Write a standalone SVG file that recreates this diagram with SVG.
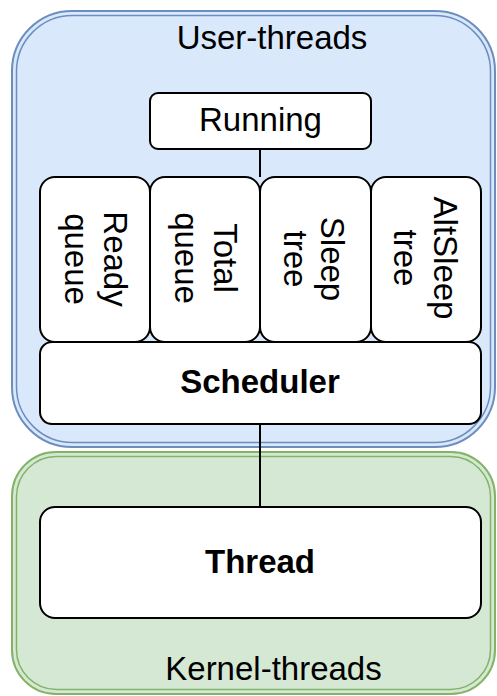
<svg xmlns="http://www.w3.org/2000/svg" width="497" height="696" viewBox="0 0 497 696">
  <style>
    .box { fill: #ffffff; stroke: #000000; stroke-width: 2; }
    .lbl { font-family: "Liberation Sans", Arial, Helvetica, sans-serif; font-size: 33px; fill: #000000; text-anchor: middle; }
    .bold { font-weight: bold; }
    .edge { fill: none; stroke: #000000; stroke-width: 2; }
    .blue-out { fill: #dae8fc; stroke: #6c8ebf; stroke-width: 2; }
    .blue-in { fill: none; stroke: #6c8ebf; stroke-width: 1.5; }
    .green-out { fill: #d5e8d4; stroke: #82b366; stroke-width: 2; }
    .green-in { fill: none; stroke: #82b366; stroke-width: 1.5; }
  </style>

  <!-- containers -->
  <g id="user-threads">
    <rect class="blue-out" x="12" y="11" width="483" height="436" rx="60" ry="60"/>
    <rect class="blue-in" x="16.5" y="15.5" width="474" height="427" rx="56" ry="56"/>
    <text class="lbl" x="272" y="49">User-threads</text>
  </g>
  <g id="kernel-threads">
    <rect class="green-out" x="12" y="452" width="483" height="242" rx="44" ry="44"/>
    <rect class="green-in" x="16.5" y="456.5" width="474" height="233" rx="40" ry="40"/>
    <text class="lbl" x="273.5" y="680">Kernel-threads</text>
  </g>

  <!-- connectors -->
  <g id="connectors">
    <line class="edge" x1="260" y1="149" x2="260" y2="177"/>
    <line class="edge" x1="260" y1="424" x2="260" y2="507"/>
  </g>

  <g id="running">
    <rect class="box" x="150" y="93" width="221" height="56" rx="8" ry="8"/>
    <text class="lbl" x="260.5" y="131">Running</text>
  </g>

  <g id="ready-queue">
    <rect class="box" x="40" y="177" width="110" height="165" rx="15" ry="15"/>
    <text class="lbl" transform="translate(95 259) rotate(90)"><tspan x="0" y="-9">Ready</tspan><tspan x="0" y="30">queue</tspan></text>
  </g>
  <g id="total-queue">
    <rect class="box" x="150" y="177" width="110" height="165" rx="15" ry="15"/>
    <text class="lbl" transform="translate(205 258) rotate(90)"><tspan x="0" y="-9">Total</tspan><tspan x="0" y="30">queue</tspan></text>
  </g>
  <g id="sleep-tree">
    <rect class="box" x="260" y="177" width="111" height="165" rx="15" ry="15"/>
    <text class="lbl" transform="translate(316 259) rotate(90)"><tspan x="0" y="-5">Sleep</tspan><tspan x="0" y="32">tree</tspan></text>
  </g>
  <g id="altsleep-tree">
    <rect class="box" x="371" y="177" width="110" height="165" rx="15" ry="15"/>
    <text class="lbl" transform="translate(426 258) rotate(90)"><tspan x="0" y="-8">AltSleep</tspan><tspan x="0" y="32">tree</tspan></text>
  </g>

  <g id="scheduler">
    <rect class="box" x="40" y="342" width="441" height="82" rx="12" ry="12"/>
    <text class="lbl bold" x="260" y="393">Scheduler</text>
  </g>

  <g id="thread">
    <rect class="box" x="40" y="507" width="441" height="111" rx="15" ry="15"/>
    <text class="lbl bold" x="260" y="573">Thread</text>
  </g>
</svg>
